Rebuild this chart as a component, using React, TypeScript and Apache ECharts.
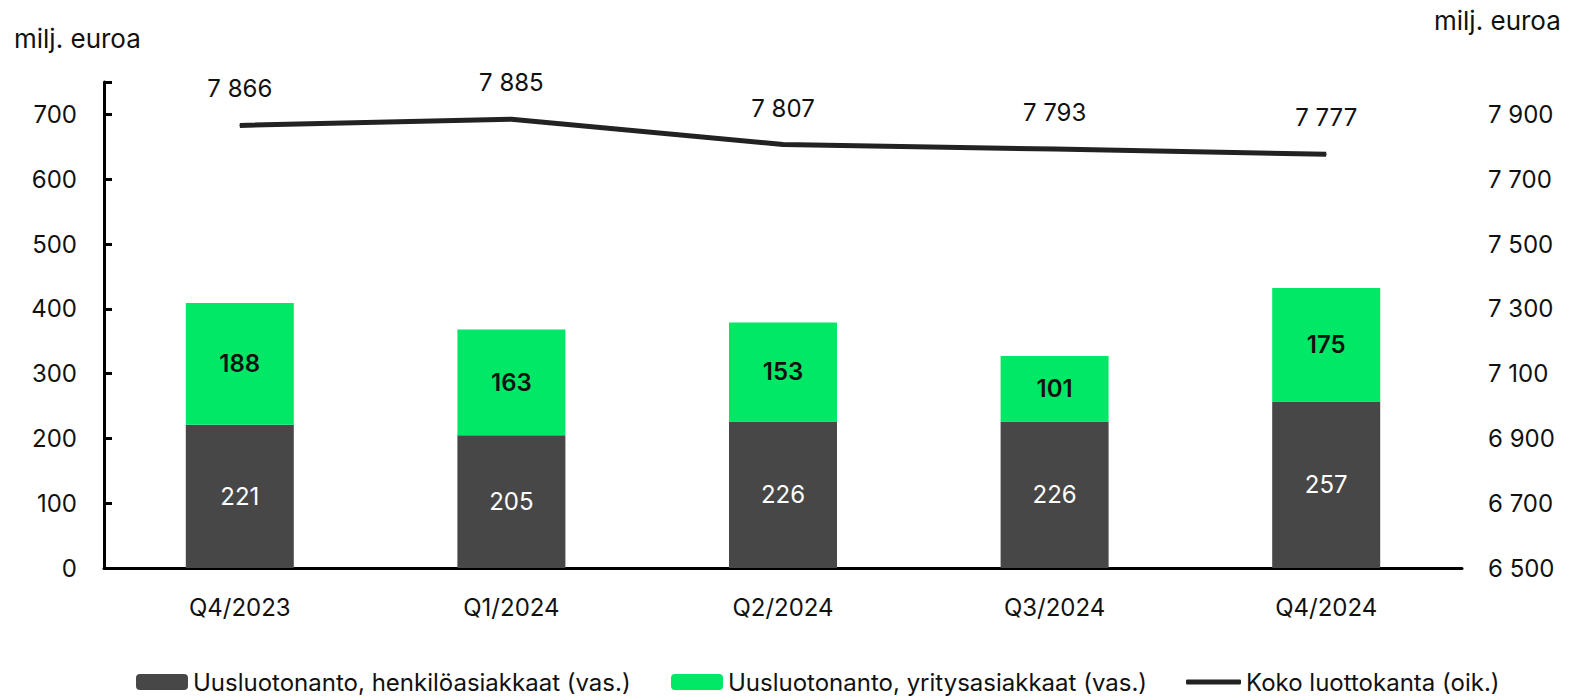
import React, { useEffect, useRef } from "react";
import * as echarts from "echarts";

const categories = ["Q4/2023", "Q1/2024", "Q2/2024", "Q3/2024", "Q4/2024"];
const henkilo = [221, 205, 226, 226, 257];
const yritys = [188, 163, 153, 101, 175];
const kanta = [7866, 7885, 7807, 7793, 7777];

const nameH = "Uusluotonanto, henkilöasiakkaat (vas.)";
const nameY = "Uusluotonanto, yritysasiakkaat (vas.)";
const nameK = "Koko luottokanta (oik.)";

const FONT = "Inter";
const FS = 24;
const fmt = (v: number) => {
  const s = String(Math.round(v));
  return s.replace(/\B(?=(\d{3})+(?!\d))/g, " ");
};

export default function App() {
  const ref = useRef<HTMLDivElement>(null);
  useEffect(() => {
    if (!ref.current) return;
    const chart = echarts.init(ref.current, undefined, { renderer: "svg" });
    const txt = { fontFamily: FONT, fontSize: FS, color: "#111" };
    chart.setOption({
      animation: false,
      backgroundColor: "#fff",
      textStyle: { fontFamily: FONT },
      grid: { left: 104, right: 128, top: 82, bottom: 130, containLabel: false },
      graphic: [
        { type: "text", left: 14, top: 25, style: { text: "milj. euroa", fill: "#111", font: `26px ${FONT}` } },
        { type: "text", left: 1434, top: 7, style: { text: "milj. euroa", fill: "#111", font: `26px ${FONT}` } },
      ],
      legend: [
        { left: 131, top: 665, itemWidth: 52, itemHeight: 16, data: [nameH], textStyle: txt },
        { left: 666, top: 665, itemWidth: 52, itemHeight: 16, data: [nameY], textStyle: txt },
        {
          left: 1181,
          top: 665,
          itemWidth: 55,
          itemHeight: 5,
          itemGap: 3,
          data: [{ name: nameK, icon: "roundRect" }],
          itemStyle: { color: "#222" },
          textStyle: txt,
        },
      ],
      xAxis: {
        type: "category",
        data: categories,
        axisLine: { lineStyle: { color: "#000", width: 3 } },
        axisTick: { show: false },
        axisLabel: { ...txt, margin: 27 },
      },
      yAxis: [
        {
          type: "value",
          min: 0,
          max: 750,
          interval: 100,
          splitLine: { show: false },
          axisLine: { show: true, lineStyle: { color: "#000", width: 3 } },
          axisTick: { show: true, inside: true, length: 8, lineStyle: { color: "#000", width: 3 } },
          axisLabel: { ...txt, margin: 27, formatter: (v: number) => (v > 700 ? "" : String(v)) },
        },
        {
          type: "value",
          min: 6500,
          max: 8000,
          interval: 100,
          position: "right",
          splitLine: { show: false },
          axisLine: { show: false },
          axisTick: { show: false },
          axisLabel: {
            ...txt,
            margin: 26,
            formatter: (v: number) => ((v - 6500) % 200 === 0 ? fmt(v) : ""),
          },
        },
      ],
      series: [
        {
          name: nameH,
          type: "bar",
          stack: "a",
          barWidth: 108,
          data: henkilo,
          itemStyle: { color: "#474747" },
          label: { show: true, position: "inside", color: "#fff", fontFamily: FONT, fontSize: FS },
        },
        {
          name: nameY,
          type: "bar",
          stack: "a",
          barWidth: 108,
          data: yritys,
          itemStyle: { color: "#00E865" },
          label: { show: true, position: "inside", color: "#111", fontFamily: FONT, fontSize: FS, fontWeight: 600 },
        },
        {
          name: nameK,
          type: "line",
          yAxisIndex: 1,
          data: kanta,
          symbol: "circle",
          symbolSize: 1,
          showSymbol: true,
          lineStyle: { color: "#222", width: 5 },
          itemStyle: { color: "#222" },
          label: {
            show: true,
            position: "top",
            distance: 24,
            color: "#111",
            fontFamily: FONT,
            fontSize: FS,
            formatter: (p: any) => fmt(p.value),
          },
        },
      ],
    });
    return () => chart.dispose();
  }, []);
  return (
    <div
      ref={ref}
      style={{ position: "absolute", left: 0, top: 0, width: 1590, height: 698 }}
    />
  );
}
